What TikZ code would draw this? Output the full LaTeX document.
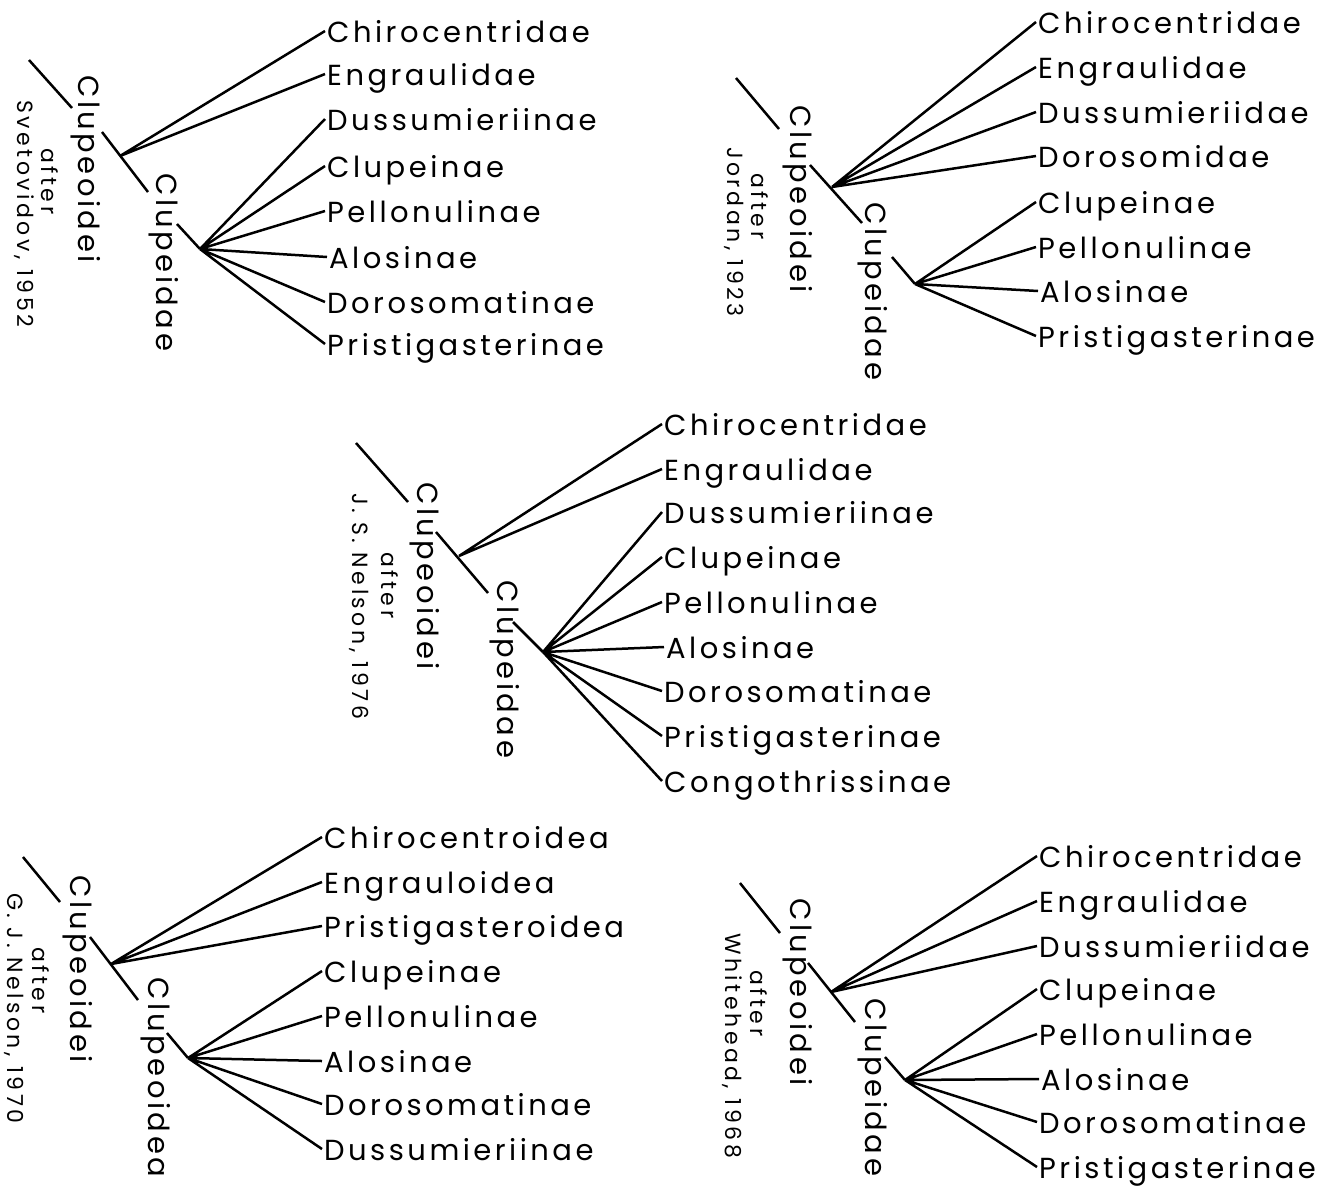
\documentclass[tikz,border=0pt]{standalone}
\usepackage{fontspec}
\newfontfamily\fishfont[LetterSpace=12]{Poppins}
\newfontfamily\citefont[LetterSpace=16]{Poppins}
\tikzset{leaf/.style={anchor=west,inner sep=2pt,text height=22pt,text depth=0pt,font=\fishfont\fontsize{29}{30}\selectfont},
  grp/.style={rotate=-90,anchor=base west,inner sep=0pt,font=\fishfont\fontsize{29}{30}\selectfont},
  cite/.style={rotate=-90,anchor=base west,inner sep=0pt,font=\citefont\fontsize{22}{23}\selectfont},
  br/.style={line width=2.5pt}}
\begin{document}
\begin{tikzpicture}[x=1pt,y=-1pt]
\useasboundingbox(0,0)rectangle(1340,1187);
% Svetovidov, 1952
\coordinate(a0)at(29,60);\coordinate(a0e)at(72,108);
\coordinate(a1s)at(102,132);\coordinate(a1)at(120,156);\coordinate(a1e)at(148,192);
\coordinate(a2s)at(177,224);\coordinate(a2)at(200,249);
\draw[br](a0)--(a0e);\draw[br](a1s)--(a1e);\draw[br](a2s)--(a2);
\node[grp](aCo)at(78,75){Clupeoidei};\node[grp](aCd)at(156,173){Clupeidae};
\node[cite](aAf)at(41,148){after};\node[cite](aAu)at(17,100){Svetovidov, 1952};
\node[leaf](aChi)at(325,31){Chirocentridae};\node[leaf](aEng)at(325,74){Engraulidae};
\node[leaf](aDus)at(325,119){Dussumieriinae};\node[leaf](aClu)at(325,166){Clupeinae};
\node[leaf](aPel)at(325,211){Pellonulinae};\node[leaf](aAlo)at(327,257){Alosinae};
\node[leaf](aDor)at(325,302){Dorosomatinae};\node[leaf](aPri)at(325,344){Pristigasterinae};
\draw[br](a1)--(aChi.west)(a1)--(aEng.west);
\draw[br](a2)--(aDus.west)(a2)--(aClu.west)(a2)--(aPel.west)(a2)--(aAlo.west)(a2)--(aDor.west)(a2)--(aPri.west);
% Jordan, 1923
\coordinate(b0)at(736,78);\coordinate(b0e)at(779,129);
\coordinate(b1s)at(810,165);\coordinate(b1)at(832,187);\coordinate(b1e)at(862,223);
\coordinate(b2s)at(892,257);\coordinate(b2)at(915,284);
\draw[br](b0)--(b0e);\draw[br](b1s)--(b1e);\draw[br](b2s)--(b2);
\node[grp](bCo)at(790,105){Clupeoidei};\node[grp](bCd)at(865,202){Clupeidae};
\node[cite](bAf)at(751,173){after};\node[cite](bAu)at(727,147){Jordan, 1923};
\node[leaf](bChi)at(1036,22){Chirocentridae};\node[leaf](bEng)at(1036,67){Engraulidae};
\node[leaf](bDus)at(1036,112){Dussumieriidae};\node[leaf](bDor)at(1036,156){Dorosomidae};
\node[leaf](bClu)at(1036,202){Clupeinae};\node[leaf](bPel)at(1036,247){Pellonulinae};
\node[leaf](bAlo)at(1038,291){Alosinae};\node[leaf](bPri)at(1036,336){Pristigasterinae};
\draw[br](b1)--(bChi.west)(b1)--(bEng.west)(b1)--(bDus.west)(b1)--(bDor.west);
\draw[br](b2)--(bClu.west)(b2)--(bPel.west)(b2)--(bAlo.west)(b2)--(bPri.west);
% J. S. Nelson, 1976
\coordinate(c0)at(356,443);\coordinate(c0e)at(408,502);
\coordinate(c1s)at(436,532);\coordinate(c1)at(459,556);\coordinate(c1e)at(488,593);
\coordinate(c2s)at(513,622);\coordinate(c2)at(543,652);
\draw[br](c0)--(c0e);\draw[br](c1s)--(c1e);\draw[br](c2s)--(c2);
\node[grp](cCo)at(417,482){Clupeoidei};\node[grp](cCd)at(497,580){Clupeidae};
\node[cite](cAf)at(381,552){after};\node[cite](cAu)at(352,493){J. S. Nelson, 1976};
\node[leaf](cChi)at(662,424){Chirocentridae};\node[leaf](cEng)at(662,469){Engraulidae};
\node[leaf](cDus)at(662,512){Dussumieriinae};\node[leaf](cClu)at(662,557){Clupeinae};
\node[leaf](cPel)at(662,602){Pellonulinae};\node[leaf](cAlo)at(664,647){Alosinae};
\node[leaf](cDor)at(662,691){Dorosomatinae};\node[leaf](cPri)at(662,736){Pristigasterinae};
\node[leaf](cCon)at(662,781){Congothrissinae};
\draw[br](c1)--(cChi.west)(c1)--(cEng.west);
\draw[br](c2)--(cDus.west)(c2)--(cClu.west)(c2)--(cPel.west)(c2)--(cAlo.west)(c2)--(cDor.west)(c2)--(cPri.west)(c2)--(cCon.west);
% G. J. Nelson, 1970
\coordinate(d0)at(23,857);\coordinate(d0e)at(60,902);
\coordinate(d1s)at(90,937);\coordinate(d1)at(111,964);\coordinate(d1e)at(138,1000);
\coordinate(d2s)at(167,1033);\coordinate(d2)at(188,1058);
\draw[br](d0)--(d0e);\draw[br](d1s)--(d1e);\draw[br](d2s)--(d2);
\node[grp](dCo)at(70,875){Clupeoidei};\node[grp](dCd)at(148,977){Clupeoidea};
\node[cite](dAf)at(32,947){after};\node[cite](dAu)at(8,893){G. J. Nelson, 1970};
\node[leaf](dChi)at(322,837){Chirocentroidea};\node[leaf](dEng)at(322,882){Engrauloidea};
\node[leaf](dPri)at(322,926){Pristigasteroidea};\node[leaf](dClu)at(322,971){Clupeinae};
\node[leaf](dPel)at(322,1016){Pellonulinae};\node[leaf](dAlo)at(322,1061){Alosinae};
\node[leaf](dDor)at(322,1104){Dorosomatinae};\node[leaf](dDus)at(322,1149){Dussumieriinae};
\draw[br](d1)--(dChi.west)(d1)--(dEng.west)(d1)--(dPri.west);
\draw[br](d2)--(dClu.west)(d2)--(dPel.west)(d2)--(dAlo.west)(d2)--(dDor.west)(d2)--(dDus.west);
% Whitehead, 1968
\coordinate(e0)at(740,883);\coordinate(e0e)at(780,933);
\coordinate(e1s)at(808,963);\coordinate(e1)at(831,992);\coordinate(e1e)at(855,1022);
\coordinate(e2s)at(885,1057);\coordinate(e2)at(905,1080);
\draw[br](e0)--(e0e);\draw[br](e1s)--(e1e);\draw[br](e2s)--(e2);
\node[grp](eCo)at(790,898){Clupeoidei};\node[grp](eCd)at(865,998){Clupeidae};
\node[cite](eAf)at(750,970){after};\node[cite](eAu)at(725,933){Whitehead, 1968};
\node[leaf](eChi)at(1037,856){Chirocentridae};\node[leaf](eEng)at(1037,901){Engraulidae};
\node[leaf](eDus)at(1037,946){Dussumieriidae};\node[leaf](eClu)at(1037,989){Clupeinae};
\node[leaf](ePel)at(1037,1034){Pellonulinae};\node[leaf](eAlo)at(1039,1079){Alosinae};
\node[leaf](eDor)at(1037,1122){Dorosomatinae};\node[leaf](ePri)at(1037,1167){Pristigasterinae};
\draw[br](e1)--(eChi.west)(e1)--(eEng.west)(e1)--(eDus.west);
\draw[br](e2)--(eClu.west)(e2)--(ePel.west)(e2)--(eAlo.west)(e2)--(eDor.west)(e2)--(ePri.west);
\end{tikzpicture}
\end{document}
